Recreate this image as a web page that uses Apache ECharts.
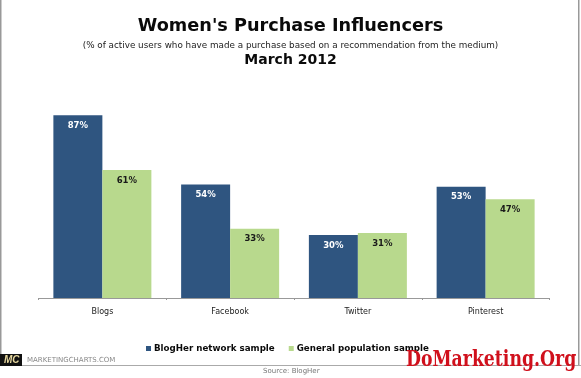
<!DOCTYPE html>
<html><head><meta charset="utf-8">
<style>html,body{margin:0;padding:0;background:#fff}#c{width:581px;height:378px}</style>
<script src="https://cdn.jsdelivr.net/npm/echarts@6/dist/echarts.min.js"></script></head>
<body><div id="c"></div>
<script>
const categories = ["Blogs","Facebook","Twitter","Pinterest"];
const blogHer = [87,54,30,53];
const general = [61,33,31,47];
const seriesNames = ["BlogHer network sample","General population sample"];
const font = "DejaVu Sans";
const chart = echarts.init(document.getElementById('c'),null,{renderer:'canvas'});
const lbl = c => ({show:true,position:'insideTop',distance:6,formatter:'{c}%',fontFamily:font,fontWeight:'bold',fontSize:8.5,color:c});
chart.setOption({
  animation:false,
  backgroundColor:'#fff',
  title:[
    {text:"Women's Purchase Influencers",left:'center',top:17,padding:0,textStyle:{fontFamily:font,fontWeight:'bold',fontSize:17.7,color:'#0a0a0a'}},
    {text:"(% of active users who have made a purchase based on a recommendation from the medium)",left:'center',top:41,padding:0,textStyle:{fontFamily:font,fontWeight:'normal',fontSize:8.8,color:'#222'}},
    {text:"March 2012",left:'center',top:53,padding:0,textStyle:{fontFamily:font,fontWeight:'bold',fontSize:14,color:'#0a0a0a'}}
  ],
  grid:{left:38.5,right:31.5,top:88,bottom:80,containLabel:false},
  xAxis:{type:'category',data:categories,axisTick:{show:true,length:2,lineStyle:{color:'#999'}},axisLine:{lineStyle:{color:'#999',width:1}},
    axisLabel:{margin:10,fontFamily:font,fontSize:8,color:'#222'}},
  yAxis:{type:'value',min:0,max:100,show:false,splitLine:{show:false}},
  legend:{show:true,top:344,left:146,padding:0,itemWidth:5,itemHeight:5,itemGap:14,icon:'rect',
    textStyle:{fontFamily:font,fontWeight:'bold',fontSize:8.7,color:'#0a0a0a',padding:[0,0,0,-2]}},
  series:[
    {name:seriesNames[0],type:'bar',data:blogHer,barWidth:49,barGap:'0%',itemStyle:{color:'#2f5580'},label:lbl('#fff')},
    {name:seriesNames[1],type:'bar',data:general,barWidth:49,barGap:'0%',itemStyle:{color:'#b8d98d'},label:lbl('#1a1a1a')}
  ],
  graphic:[
    {type:'rect',z:0,shape:{x:0,y:0,width:1.5,height:354},style:{fill:'#999'}},
    {type:'rect',z:0,shape:{x:578,y:0,width:1.5,height:365},style:{fill:'#999'}},
    {type:'rect',z:0,shape:{x:0,y:365,width:581,height:1},style:{fill:'#aaa'}},
    {type:'rect',z:5,shape:{x:0,y:354,width:22,height:12},style:{fill:'#111'}},
    {type:'text',z:6,x:4,y:355,style:{text:'MC',fontFamily:'Liberation Sans',fontWeight:'bold',fontStyle:'italic',fontSize:10,fill:'#e8d9a0'}},
    {type:'text',z:6,x:27,y:357,style:{text:'MARKETINGCHARTS.COM',fontFamily:font,fontSize:7,fill:'#888'}},
    {type:'text',z:6,x:263,y:368,style:{text:'Source: BlogHer',fontFamily:font,fontSize:7,fill:'#777'}},
    {type:'text',z:10,x:406,y:349,scaleX:0.785,style:{text:'DoMarketing.Org',fontFamily:'DejaVu Serif',fontWeight:'bold',fontSize:22,fill:'#d0101c'}}
  ]
});
</script></body></html>
